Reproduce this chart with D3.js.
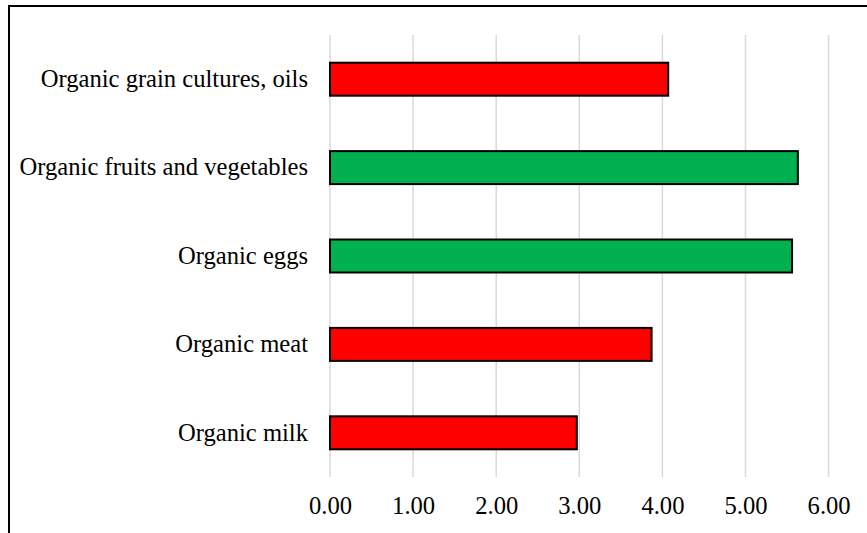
<!DOCTYPE html>
<html>
<head>
<meta charset="utf-8">
<script src="https://cdn.jsdelivr.net/npm/d3@7"></script>
<style>
  body { margin: 0; background: #fff; overflow: hidden; }
  text { font-family: "Liberation Serif", "Times New Roman", serif; fill: #000; }
</style>
</head>
<body>
<script>
var svgWidth = 867;
var svgHeight = 533;

var margin = { top: 35, right: 38, bottom: 56, left: 330 };

// data, top to bottom
var categories = ["Organic grain cultures, oils", "Organic fruits and vegetables", "Organic eggs", "Organic meat", "Organic milk"];
var values = [4.07, 5.63, 5.56, 3.87, 2.97];
var barColors = ["#ff0000", "#00b050", "#00b050", "#ff0000", "#ff0000"];
var tickValues = [0, 1, 2, 3, 4, 5, 6];

var chartWidth = svgWidth - margin.left - margin.right;
var chartHeight = svgHeight - margin.top - margin.bottom;
var fontSize = "24.6px";

var svg = d3.select("body")
  .append("svg")
  .attr("width", svgWidth)
  .attr("height", svgHeight);

// outer frame (runs off right and bottom edges)
svg.append("rect")
  .attr("x", 9)
  .attr("y", 6)
  .attr("width", 1000)
  .attr("height", 1000)
  .attr("fill", "none")
  .attr("stroke", "#000")
  .attr("stroke-width", 2);

var chartGroup = svg.append("g")
  .attr("transform", `translate(${margin.left}, ${margin.top})`);

var xScale = d3.scaleLinear()
  .domain([0, 6])
  .range([0, 83.1 * 6]);

var yScale = d3.scaleBand()
  .domain(categories)
  .range([0, chartHeight])
  .paddingInner(0.627)
  .paddingOuter(0.3135);

// gridlines
chartGroup.selectAll(".grid")
  .data(tickValues)
  .enter()
  .append("line")
  .attr("x1", d => xScale(d))
  .attr("x2", d => xScale(d))
  .attr("y1", 0)
  .attr("y2", chartHeight)
  .attr("stroke", "#d9d9d9")
  .attr("stroke-width", 1.5);

// x axis labels
var xAxis = d3.axisBottom(xScale)
  .tickValues(tickValues)
  .tickFormat(d3.format(".2f"))
  .tickSize(0)
  .tickPadding(20);

chartGroup.append("g")
  .attr("transform", `translate(0, ${chartHeight})`)
  .call(xAxis)
  .attr("font-family", null)
  .call(g => g.select(".domain").remove())
  .selectAll("text")
  .style("font-family", '"Liberation Serif", "Times New Roman", serif')
  .style("font-size", fontSize);

// category labels
var yAxis = d3.axisLeft(yScale)
  .tickSize(0)
  .tickPadding(22);

chartGroup.append("g")
  .call(yAxis)
  .attr("font-family", null)
  .call(g => g.select(".domain").remove())
  .selectAll("text")
  .style("font-family", '"Liberation Serif", "Times New Roman", serif')
  .style("font-size", fontSize);

// bars
chartGroup.selectAll(".bar")
  .data(categories)
  .enter()
  .append("rect")
  .attr("x", xScale(0))
  .attr("y", d => yScale(d))
  .attr("width", (d, i) => xScale(values[i]) - xScale(0))
  .attr("height", yScale.bandwidth())
  .attr("fill", (d, i) => barColors[i])
  .attr("stroke", "#000")
  .attr("stroke-width", 2);
</script>
</body>
</html>
